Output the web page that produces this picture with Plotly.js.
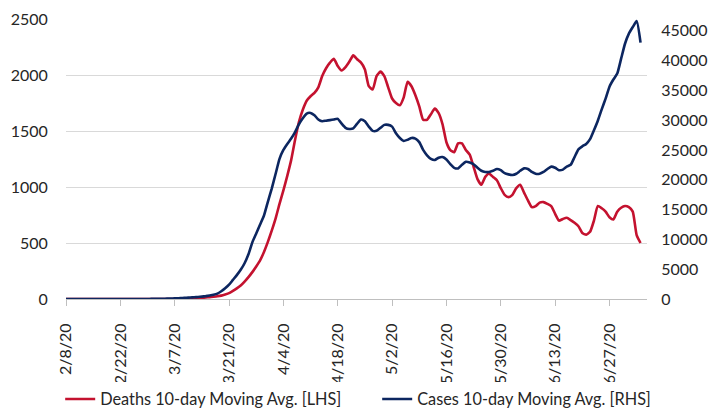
<!DOCTYPE html>
<html>
<head>
<meta charset="utf-8">
<script src="https://cdn.plot.ly/plotly-3.0.1.min.js"></script>
<style>
  html, body { margin: 0; padding: 0; background: #ffffff; }
  #chart { width: 711px; height: 411px; }
</style>
</head>
<body>
<div id="chart"></div>
<script>
// First date of the daily series (one value per day)
const startDate = "2020-02-08";

// Deaths 10-day moving average (left axis), daily from 2/8/20
const deaths = [
  0,0,0,0,0,0,0,0,0,0, 0,0,0,0,0,0,0,0,0,0, 0,0,0,0,0,0,0,0,
  1,1,2,3,4,6,8,10,13,17,20,24,30,40,52,72,95,120,155,195,240,290,
  345,420,510,610,720,850,970,1100,1240,1420,1580,1690,1770,1810,1840,1890,1990,2060,2110,2145,
  2080,2040,2070,2120,2175,2140,2110,2050,1900,1870,1990,2030,1990,1890,1790,1750,1730,1800,1940,1900,
  1820,1720,1600,1600,1650,1700,1660,1560,1400,1330,1310,1390,1390,1330,1290,1180,1070,1020,1090,1120,
  1090,1060,990,930,910,930,990,1020,950,880,820,830,860,865,850,830,760,700,715,725,
  705,680,650,590,575,600,700,830,810,780,730,710,780,815,830,820,780,570,500
];

// Cases 10-day moving average (right axis), daily from 2/8/20
const cases = [
  2,2,2,2,2,2,2,2,3,3, 3,3,3,3,3,3,4,4,4,5, 5,10,15,20,30,40,55,75,
  100,130,170,210,260,300,340,400,480,580,700,900,1300,1800,2400,3200,4000,4900,6000,7500,9500,11000,
  12500,14000,16300,18500,21000,23500,25000,26000,26900,28000,29300,30300,31100,31200,30800,30100,29800,29900,30000,30100,
  30200,29400,28700,28500,28600,29400,30100,29800,28900,28200,28200,28700,29200,29200,28900,27800,27000,26500,26700,27000,
  26900,26300,25000,24100,23500,23300,23700,23800,23400,22600,22000,21900,22500,23000,22900,22600,22000,21500,21300,21300,
  21500,21800,21600,21100,20900,20800,21000,21500,21900,21800,21300,21000,21000,21300,21800,22200,22000,21600,21700,22200,
  22500,23800,25100,25600,26000,26800,28300,29900,31800,33600,35600,36800,37800,40300,42800,44500,45600,46600,43000
];

const seriesNames = ["Deaths 10-day Moving Avg. [LHS]", "Cases 10-day Moving Avg. [RHS]"];
const seriesColors = ["#C4122F", "#0C2660"];

function datesFrom(start, n) {
  const out = [];
  const t0 = Date.parse(start + "T00:00:00Z");
  for (let i = 0; i < n; i++) {
    const d = new Date(t0 + i * 86400000);
    out.push(d.toISOString().slice(0, 10));
  }
  return out;
}

const xDeaths = datesFrom(startDate, deaths.length);
const xCases = datesFrom(startDate, cases.length);

const font = "Lato, 'Open Sans', sans-serif";
const textColor = "#262626";
const xRange = ["2020-02-08", "2020-07-06T16:00:00"];
const dayMs = 86400000;

const traces = [
  {
    x: xDeaths, y: deaths, name: seriesNames[0], type: "scatter", mode: "lines",
    line: { color: seriesColors[0], width: 2.6, shape: "spline", smoothing: 0.5 },
    xaxis: "x", yaxis: "y"
  },
  {
    x: xCases, y: cases, name: seriesNames[1], type: "scatter", mode: "lines",
    line: { color: seriesColors[1], width: 2.6, shape: "spline", smoothing: 0.5 },
    xaxis: "x", yaxis: "y2"
  },
  {
    // invisible helper so the tick-mark axis is drawn
    x: [xRange[0]], y: [null], type: "scatter", mode: "lines",
    xaxis: "x2", yaxis: "y", showlegend: false, hoverinfo: "skip"
  }
];

const layout = {
  width: 711, height: 411,
  margin: { l: 66, r: 64, t: 19, b: 112, autoexpand: false },
  paper_bgcolor: "#ffffff", plot_bgcolor: "#ffffff",
  font: { family: font, size: 16, color: textColor },
  showlegend: true,
  legend: {
    orientation: "h", x: -0.01, xanchor: "left", y: -0.296, yanchor: "top",
    font: { family: font, size: 16.3, color: textColor },
    entrywidth: 272,
    traceorder: "normal"
  },
  xaxis: {
    type: "date", automargin: false,
    range: xRange,
    tick0: startDate, dtick: 14 * dayMs,
    tickformat: "%-m/%-d/%y",
    tickangle: -90,
    ticks: "outside", ticklen: 17, tickcolor: "rgba(0,0,0,0)", tickwidth: 1,
    showline: true, linecolor: "#bfbfbf", linewidth: 1,
    showgrid: false, zeroline: false,
    tickfont: { family: font, size: 16, color: textColor }
  },
  xaxis2: {
    type: "date", automargin: false, overlaying: "x", anchor: "y", side: "bottom",
    range: xRange,
    tick0: startDate, dtick: 14 * dayMs,
    showticklabels: false,
    ticks: "outside", ticklen: 6, tickcolor: "#bfbfbf", tickwidth: 1,
    showline: false, showgrid: false, zeroline: false
  },
  yaxis: {
    automargin: false,
    range: [0, 2500], dtick: 500, tick0: 0,
    showgrid: true, gridcolor: "#d9d9d9", gridwidth: 1,
    zeroline: false, showline: false,
    ticks: "outside", ticklen: 14, tickcolor: "rgba(0,0,0,0)",
    tickfont: { family: font, size: 16, color: textColor }
  },
  yaxis2: {
    automargin: false,
    overlaying: "y", side: "right",
    range: [0, 46950], dtick: 5000, tick0: 0,
    tickformat: "d",
    showgrid: false, zeroline: false, showline: false,
    ticks: "outside", ticklen: 10, tickcolor: "rgba(0,0,0,0)",
    tickfont: { family: font, size: 16, color: textColor }
  }
};

Plotly.newPlot("chart", traces, layout, { displayModeBar: false, staticPlot: true });
</script>
</body>
</html>
